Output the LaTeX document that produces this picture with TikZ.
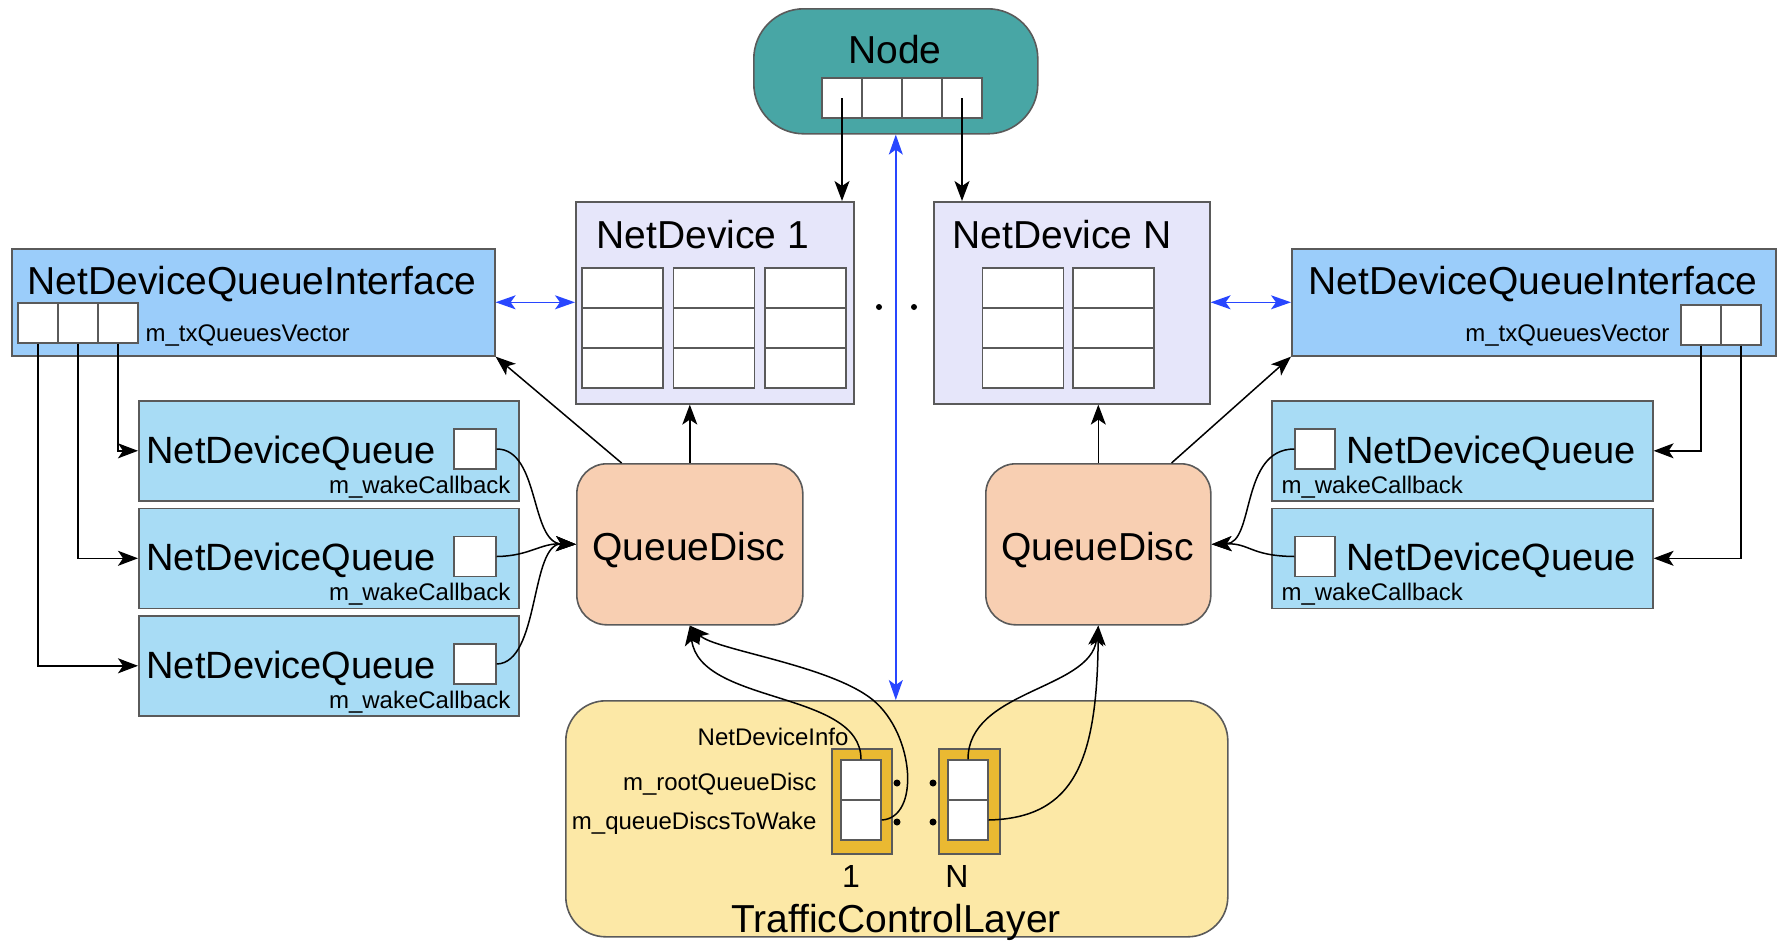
\documentclass[tikz,border=0pt]{standalone}
\usepackage{fontspec}
\setmainfont{Liberation Sans}
\usepackage{tikz}
\usetikzlibrary{arrows.meta, positioning, calc}
\usepackage{xcolor}

\definecolor{nodeteal}{RGB}{72,166,165}
\definecolor{devlav}{RGB}{230,230,250}
\definecolor{ifblue}{RGB}{155,205,250}
\definecolor{qblue}{RGB}{168,220,245}
\definecolor{qdpeach}{RGB}{248,207,178}
\definecolor{tclyellow}{RGB}{252,232,166}
\definecolor{infogold}{RGB}{234,185,50}
\definecolor{linkblue}{RGB}{40,70,255}
\definecolor{edgegray}{RGB}{90,90,90}

\begin{document}
\begin{tikzpicture}[x=1pt, y=-1pt,
    big/.style={font=\fontsize{39}{42}\selectfont},
    small/.style={font=\fontsize{24}{26}\selectfont},
    boxframe/.style={draw=edgegray, line width=1.6pt, inner sep=0pt, anchor=north west},
    cell/.style={draw=edgegray, fill=white, line width=1.4pt, inner sep=0pt,
                 minimum width=40pt, minimum height=40pt},
    conn/.style={line width=1.5pt, -{Stealth[length=20pt,width=15pt,inset=5pt]}},
    link/.style={linkblue, line width=1.5pt,
                 {Stealth[length=20pt,width=14pt,inset=5pt]}-{Stealth[length=20pt,width=14pt,inset=5pt]}}
]
    \useasboundingbox (0,0) rectangle (1779,940);

    % Node with its device list
    \node[boxframe, fill=nodeteal, rounded corners=50pt, minimum width=284pt, minimum height=125pt] (node) at (753,8) {};
    \node[big, anchor=base] (nodetitle) at (895,63) {Node};
    \foreach \k in {1,...,4}{
        \node[cell] (nc\k) at (802+40*\k,98) {};
    }

    % Net devices
    \node[boxframe, fill=devlav, minimum width=278pt, minimum height=202pt] (dev1) at (575,201) {};
    \node[big, anchor=base west] (dev1title) at (593,248) {NetDevice 1};
    \foreach \c in {0,1,2}{
        \foreach \r in {0,1,2}{
            \node[cell, minimum width=81pt] (dev1c\c\r) at (622.5+91.5*\c,288+40*\r) {};
        }
    }
    \node[boxframe, fill=devlav, minimum width=276pt, minimum height=202pt] (devn) at (933,201) {};
    \node[big, anchor=base west] (devntitle) at (949,248) {NetDevice N};
    \foreach \c in {0,1}{
        \foreach \r in {0,1,2}{
            \node[cell, minimum width=81pt] (devnc\c\r) at (1023+90.5*\c,288+40*\r) {};
        }
    }
    \fill (879,307) circle (3pt);
    \fill (914,307) circle (3pt);

    % Queue interfaces
    \node[boxframe, fill=ifblue, minimum width=483pt, minimum height=107pt] (ifl) at (11,248) {};
    \node[big, anchor=base] (ifltitle) at (252,294) {NetDeviceQueueInterface};
    \foreach \k in {1,2,3}{
        \node[cell] (ilc\k) at (-2+40*\k,323) {};
    }
    \node[small, anchor=base west] (iflvec) at (142,341) {m\_txQueuesVector};

    \node[boxframe, fill=ifblue, minimum width=484pt, minimum height=107pt] (ifr) at (1291,248) {};
    \node[big, anchor=base] (ifrtitle) at (1533,294) {NetDeviceQueueInterface};
    \foreach \k in {1,2}{
        \node[cell] (irc\k) at (1661+40*\k,325) {};
    }
    \node[small, anchor=base east] (ifrvec) at (1673,341) {m\_txQueuesVector};

    % Device queues, left
    \foreach \k/\y in {1/400,2/507.5,3/615}{
        \node[boxframe, fill=qblue, minimum width=380pt, minimum height=100pt] (lq\k) at (138,\y) {};
        \node[big, font=\fontsize{38}{40}\selectfont, anchor=base west] (lqt\k) at (143,\y+63) {NetDeviceQueue};
        \node[cell, minimum width=42pt] (lsq\k) at (475,\y+49) {};
        \node[small, anchor=base east] (lqw\k) at (514,\y+93) {m\_wakeCallback};
    }
    % Device queues, right
    \foreach \k/\y in {1/400,2/507.5}{
        \node[boxframe, fill=qblue, minimum width=381pt, minimum height=100pt] (rq\k) at (1271,\y) {};
        \node[big, font=\fontsize{38}{40}\selectfont, anchor=base west] (rqt\k) at (1343,\y+63) {NetDeviceQueue};
        \node[cell] (rsq\k) at (1315,\y+49) {};
        \node[small, anchor=base west] (rqw\k) at (1278,\y+93) {m\_wakeCallback};
    }

    % Queue discs
    \node[boxframe, fill=qdpeach, rounded corners=30pt, minimum width=226pt, minimum height=161pt] (qd1) at (576,463) {};
    \node[big, anchor=base] (qd1title) at (689,560) {QueueDisc};
    \node[boxframe, fill=qdpeach, rounded corners=30pt, minimum width=225pt, minimum height=161pt] (qd2) at (985,463) {};
    \node[big, anchor=base] (qd2title) at (1097.5,560) {QueueDisc};

    % Traffic control layer
    \node[boxframe, fill=tclyellow, rounded corners=40pt, minimum width=662pt, minimum height=236pt] (tcl) at (565,700) {};
    \node[big, anchor=base] (tcltitle) at (896,932) {TrafficControlLayer};
    \node[small, anchor=base east] (infolbl) at (852,745) {NetDeviceInfo};
    \node[small, anchor=base east] (rootlbl) at (820,790) {m\_rootQueueDisc};
    \node[small, anchor=base east] (wakelbl) at (820,829) {m\_queueDiscsToWake};
    \node[boxframe, fill=infogold, minimum width=60pt, minimum height=105pt] (info1) at (831,748) {};
    \node[cell] (ia1) at (861,780) {};
    \node[cell] (ib1) at (861,820) {};
    \node[boxframe, fill=infogold, minimum width=61pt, minimum height=105pt] (infon) at (938,748) {};
    \node[cell] (ian) at (968,780) {};
    \node[cell] (ibn) at (968,820) {};
    \foreach \x in {897,933}{
        \fill (\x,783) circle (3.5pt);
        \fill (\x,822) circle (3.5pt);
    }
    \node[big, font=\fontsize{32}{34}\selectfont, anchor=base] (one) at (851,887) {1};
    \node[big, font=\fontsize{32}{34}\selectfont, anchor=base] (enn) at (957,887) {N};

    % Node -> devices
    \draw[conn] (nc1.center) -- (nc1.center |- dev1.north);
    \draw[conn] (nc4.center) -- (nc4.center |- devn.north);

    % Aggregation links
    \draw[link] (node.south) -- (node.south |- tcl.north);
    \draw[link] (ifl.east) -- (ifl.east -| dev1.west);
    \draw[link] (devn.east |- ifr.west) -- (ifr.west);

    % Queue discs -> devices and interfaces
    \draw[conn] (qd1.north) -- (qd1.north |- dev1.south);
    \draw[conn] (qd2.north) -- (qd2.north |- devn.south);
    \draw[conn] (qd1.130) -- (ifl.south east);
    \draw[conn] (qd2.48) -- (ifr.south west);

    % Tx queue vector entries
    \draw[conn] (ilc3.south) |- (lq1.west);
    \draw[conn] (ilc2.south) |- (lq2.west);
    \draw[conn] (ilc1.south) |- (lq3.west);
    \draw[conn] (irc1.south) |- (rq1.east);
    \draw[conn] (irc2.south) |- (rq2.east);

    % Wake callbacks
    \draw[conn] (lsq1.east) .. controls (540,449) and (530,543) .. (qd1.west);
    \draw[conn] (lsq2.east) .. controls (530,556) and (540,543) .. (qd1.west);
    \draw[conn] (lsq3.east) .. controls (540,663) and (530,543) .. (qd1.west);
    \draw[conn] (rsq1.west) .. controls (1240,449) and (1255,543) .. (qd2.east);
    \draw[conn] (rsq2.west) .. controls (1250,556) and (1250,543) .. (qd2.east);

    % Device info -> queue discs
    \draw[conn] (ia1.north) .. controls (861,690) and (700,705) .. (qd1.south);
    \draw[conn] (ib1.east) .. controls (920,818) and (915,735) .. (873,700)
                .. controls (830,665) and (715,650) .. (qd1.south);
    \draw[conn] (ian.north) .. controls (968,690) and (1090,690) .. (qd2.south);
    \draw[conn] (ibn.east) .. controls (1075,818) and (1097,760) .. (qd2.south);
\end{tikzpicture}
\end{document}
